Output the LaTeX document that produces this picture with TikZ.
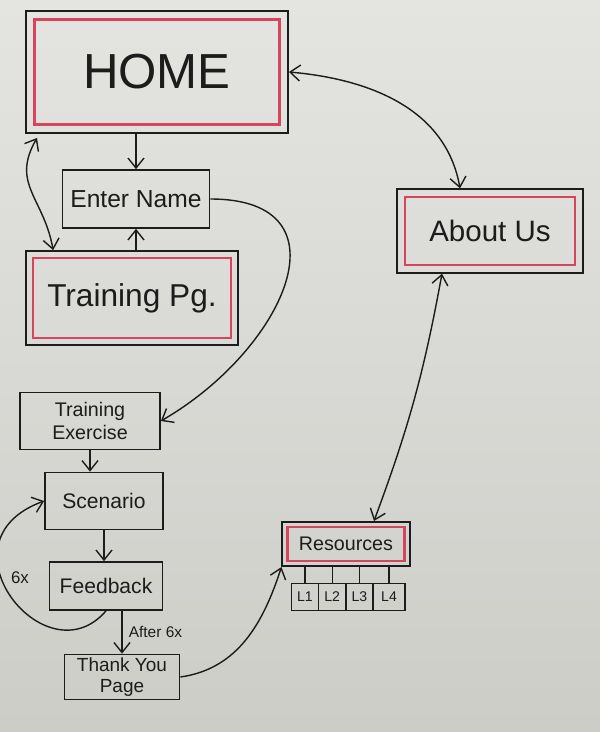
\documentclass[tikz,border=0pt]{standalone}
\usepackage{fontspec}
\setmainfont{Liberation Sans}
\usetikzlibrary{positioning, arrows.meta, fit}
\definecolor{MarkerBlack}{HTML}{1C1C1C}
\definecolor{MarkerRed}{HTML}{D8435E}
\definecolor{BoardTop}{HTML}{E4E4E1}
\definecolor{BoardBottom}{HTML}{CDCDC8}

\begin{document}
\begin{tikzpicture}[x=0.025cm, y=-0.025cm,
    navbox/.style={draw=MarkerBlack, line width=1.2pt, inner sep=0pt, align=center, text=MarkerBlack},
    pagebox/.style={draw=MarkerRed, line width=1.8pt, inner sep=0pt, align=center, text=MarkerBlack},
    pageframe/.style={draw=MarkerBlack, line width=1.4pt, inner sep=#1},
    navline/.style={MarkerBlack, line width=1pt},
    navarrow/.style={navline, -{Straight Barb[length=2.5mm, width=4mm]}},
    bothways/.style={navline, {Straight Barb[length=2.5mm, width=4mm]}-{Straight Barb[length=2.5mm, width=4mm]}}]
    % Whiteboard
    \shade[top color=BoardTop, bottom color=BoardBottom] (0,0) rectangle (600,732);
    \useasboundingbox (0,0) rectangle (600,732);

    % Main pages (red inner frame)
    \node[pagebox, minimum width=6.125cm, minimum height=2.625cm, font=\fontsize{35}{40}\selectfont] (homein) at (157,72) {HOME};
    \node[pageframe=0.18cm, fit=(homein)] (home) {};
    \node[pagebox, minimum width=4.95cm, minimum height=2cm, font=\fontsize{22.5}{26}\selectfont] (trainpgin) at (132,298) {Training Pg.};
    \node[pageframe=0.14cm, fit=(trainpgin)] (trainpg) {};
    \node[pagebox, minimum width=4.25cm, minimum height=1.7cm, font=\fontsize{21}{24}\selectfont] (aboutin) at (490,231) {About Us};
    \node[pageframe=0.16cm, fit=(aboutin)] (about) {};
    \node[pagebox, line width=1.5pt, minimum width=2.925cm, minimum height=0.85cm, font=\fontsize{14}{16}\selectfont] (resin) at (346,544) {Resources};
    \node[pageframe=0.1cm, fit=(resin)] (res) {};

    % Plain steps
    \node[navbox, minimum width=3.675cm, minimum height=1.45cm, font=\fontsize{17.5}{20}\selectfont] (enter) at (136,199) {Enter Name};
    \node[navbox, minimum width=3.5cm, minimum height=1.425cm, font=\fontsize{14}{17}\selectfont] (trainex) at (90,421) {Training\\Exercise};
    \node[navbox, minimum width=2.95cm, minimum height=1.425cm, font=\fontsize{15}{18}\selectfont] (scen) at (104,501) {Scenario};
    \node[navbox, minimum width=2.825cm, minimum height=1.2cm, font=\fontsize{15}{18}\selectfont] (feed) at (106,586) {Feedback};
    \node[navbox, minimum width=2.875cm, minimum height=1.125cm, font=\fontsize{13.5}{15}\selectfont] (thank) at (122,677) {Thank You\\Page};

    % Resource levels
    \node[navbox, minimum width=0.68cm, minimum height=0.675cm, font=\fontsize{10}{12}\selectfont] (l1) at (305,597) {L1};
    \node[navbox, minimum width=0.68cm, minimum height=0.675cm, font=\fontsize{10}{12}\selectfont, right=-1.2pt of l1] (l2) {L2};
    \node[navbox, minimum width=0.68cm, minimum height=0.675cm, font=\fontsize{10}{12}\selectfont, right=-1.2pt of l2] (l3) {L3};
    \node[navbox, minimum width=0.8cm, minimum height=0.675cm, font=\fontsize{10}{12}\selectfont, right=-1.2pt of l3] (l4) {L4};
    \foreach \lvl in {l1,l2,l3,l4}
        \draw[navline] (\lvl.north) -- (\lvl.north |- res.south);

    % Top part
    \draw[navarrow] (enter.north |- home.south) -- (enter.north);
    \draw[navarrow] (enter.south |- trainpg.north) -- (enter.south);
    \draw[bothways] ([xshift=0.3cm, yshift=-0.1cm]home.south west) to[out=-120, in=100, looseness=1.2] ([xshift=0.7cm]trainpg.north west);
    \draw[navarrow] (enter.east) to[out=0, in=30, looseness=1.6] (trainex.east);
    \draw[bothways] (home.east) to[out=-5, in=100] ([xshift=-0.75cm]about.north);
    \draw[bothways] ([xshift=0.7cm]res.north) to[bend right=5] ([xshift=-1.2cm]about.south);

    % Training loop
    \draw[navarrow] (trainex.south) -- (trainex.south |- scen.north);
    \draw[navarrow] (scen.south) -- (scen.south |- feed.north);
    \draw[navarrow] (thank.north |- feed.south) -- (thank.north)
        node[midway, right=1pt, font=\fontsize{11}{13}\selectfont, text=MarkerBlack] (after) {After 6x};
    \draw[navarrow] (feed.south) .. controls +(-60,70) and +(-110,40) .. (scen.west);
    \node[font=\fontsize{12}{14}\selectfont, text=MarkerBlack] (sixtimes) at (20,578) {6x};
    \draw[navarrow] (thank.east) to[out=8, in=-108] (res.south west);
\end{tikzpicture}
\end{document}
